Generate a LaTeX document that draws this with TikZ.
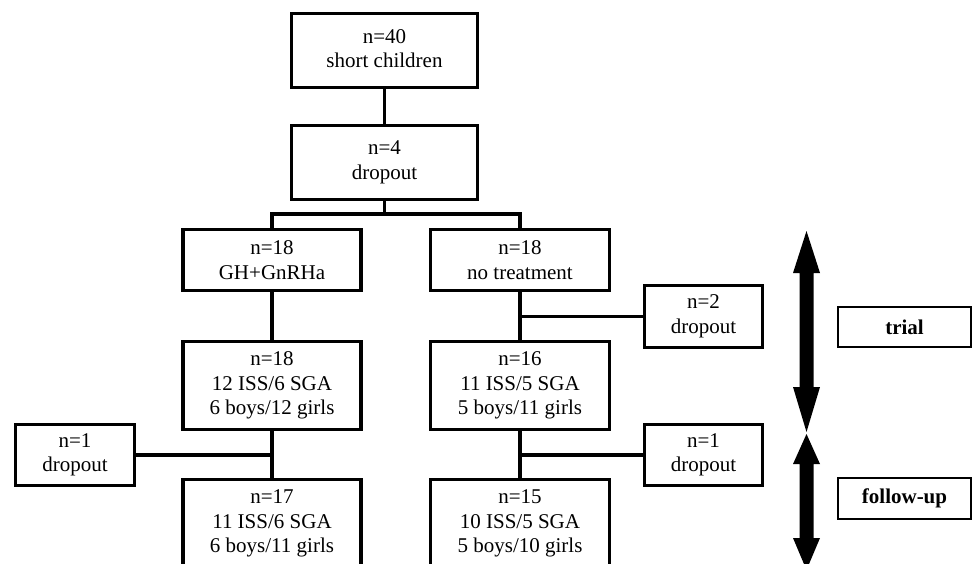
\documentclass[tikz,border=0pt]{standalone}
\usepackage{fontspec}
\setmainfont{Liberation Serif}
\newcommand{\shiftlines}[2]{\raisebox{#1}{\begin{tabular}{@{}c@{}}#2\end{tabular}}}
\tikzset{
  box/.style={draw, line width=3.3pt, rectangle, align=center, inner sep=0pt,
              font=\fontsize{21}{24.5}\selectfont},
  link/.style={line width=3.2pt},
  phase/.style={draw, line width=1.6pt, rectangle, inner sep=0pt,
              font=\bfseries\fontsize{21}{24.5}\selectfont,
              minimum width=133.5, minimum height=40.5},
}
\begin{document}
\begin{tikzpicture}[x=1pt,y=-1pt]
\path[use as bounding box, clip] (0,0) rectangle (976,564);
\fill[white] (0,0) rectangle (976,564);

\node[box, minimum width=186, minimum height=74] (b40) at (384.5,50.5) {\shiftlines{3pt}{n=40\\short children}};
\node[box, minimum width=186, minimum height=74] (b4) at (384.5,162.5) {n=4\\dropout};
\node[box, minimum width=178, minimum height=61] (gh) at (272,260) {n=18\\GH+GnRHa};
\node[box, minimum width=179, minimum height=61] (nt) at (520,260) {n=18\\no treatment};
\node[box, minimum width=178, minimum height=88] (g18) at (272,385.5) {\shiftlines{-2pt}{n=18\\12 ISS/6 SGA\\6 boys/12 girls}};
\node[box, minimum width=179, minimum height=88] (n16) at (520,385.5) {\shiftlines{-2pt}{n=16\\11 ISS/5 SGA\\5 boys/11 girls}};
\node[box, minimum width=118, minimum height=62] (d2) at (703.5,316.5) {n=2\\dropout};
\node[box, minimum width=119, minimum height=61] (d1L) at (75,455) {n=1\\dropout};
\node[box, minimum width=118, minimum height=61] (d1R) at (703.5,455) {n=1\\dropout};
\node[box, minimum width=178, minimum height=88] (g17) at (272,523.5) {n=17\\11 ISS/6 SGA\\6 boys/11 girls};
\node[box, minimum width=179, minimum height=88] (n15) at (520,523.5) {n=15\\10 ISS/5 SGA\\5 boys/10 girls};

\node[phase] (trial) at (904.5,327) {trial};
\node[phase] (follow) at (904.5,498.5) {follow-up};

\coordinate (split) at (384.5,214);
\draw[link] (b40) -- (b4);
\draw[link] (b4.south) -- (split);
\draw[link] (gh.north) -- (gh.north |- split) -- (nt.north |- split) -- (nt.north);
\draw[link] (gh) -- (g18);
\draw[link] (nt) -- (n16);
\draw[link] (d2.west) -- (d2.west -| nt.south);
\draw[link] (g18) -- (g17);
\draw[link] (d1L.east) -- (d1L.east -| g18.south);
\draw[link] (n16) -- (n15);
\draw[link] (d1R.west) -- (d1R.west -| n16.south);

% double arrows
\fill[black] (806.5,231) -- (820,273) -- (813.5,273) -- (813.5,387) -- (820,387) -- (806.5,432)
  -- (793,387) -- (799.5,387) -- (799.5,273) -- (793,273) -- cycle;
\fill[black] (806.5,434) -- (820,464) -- (813.5,464) -- (813.5,538) -- (820,538) -- (806.5,570)
  -- (793,538) -- (799.5,538) -- (799.5,464) -- (793,464) -- cycle;
\end{tikzpicture}
\end{document}
